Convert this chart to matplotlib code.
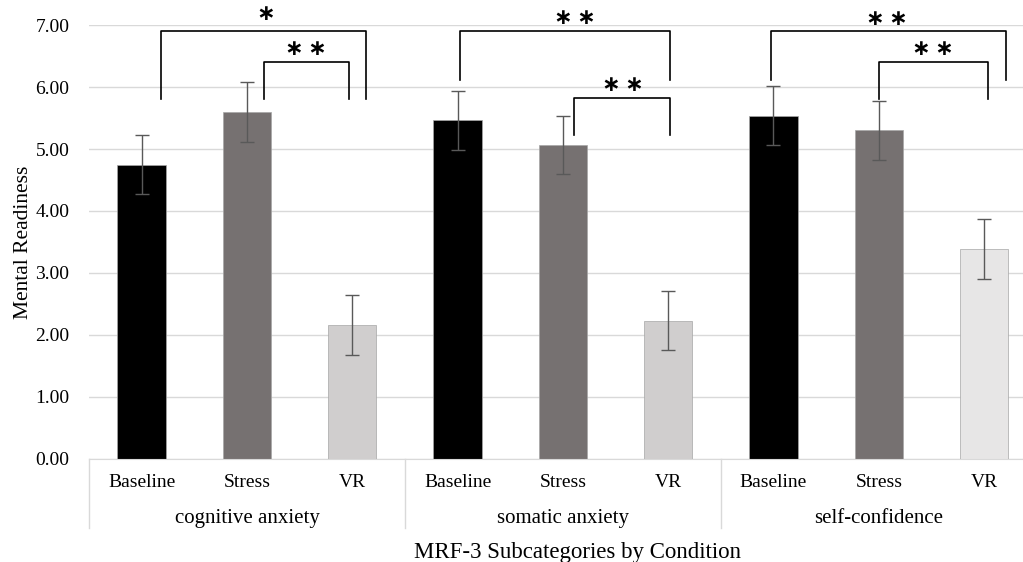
import matplotlib.pyplot as plt

# MRF-3 means and error bars, one entry per bar (subcategory x condition)
subcategories = ["cognitive anxiety", "somatic anxiety", "self-confidence"]
conditions = ["Baseline", "Stress", "VR"]
means = [4.75, 5.60, 2.16,
         5.46, 5.07, 2.23,
         5.54, 5.30, 3.39]
errors = [0.47, 0.48, 0.48,
          0.47, 0.47, 0.48,
          0.48, 0.48, 0.48]
bar_colors = ["#000000", "#767171", "#d0cece",
              "#000000", "#767171", "#d0cece",
              "#000000", "#767171", "#e7e6e6"]

# significance brackets: (left x, right x, top y, leg y, label, label x, label y)
brackets = [
    (0.18, 2.13, 6.90, 5.81, "*", 1.18, 7.17),
    (1.16, 1.97, 6.41, 5.81, "**", 1.56, 6.62),
    (3.02, 5.02, 6.90, 6.11, "**", 4.11, 7.12),
    (4.11, 5.02, 5.82, 5.23, "**", 4.57, 6.04),
    (5.98, 8.21, 6.90, 6.11, "**", 7.08, 7.10),
    (7.00, 8.04, 6.41, 5.80, "**", 7.51, 6.62),
]

plt.rcParams['font.family'] = ['Liberation Serif', 'DejaVu Serif']

fig = plt.figure(figsize=(10.23, 5.62), dpi=100)
ax = fig.add_axes([0.087, 0.1833, 0.9264, 0.7722])

x = list(range(len(means)))
ax.bar(x, means, width=0.46, color=bar_colors, edgecolor="#a6a6a6",
       linewidth=0.5, zorder=3)
ax.errorbar(x, means, yerr=errors, fmt="none", ecolor="#595959",
            elinewidth=1.0, capsize=5, capthick=1.0, zorder=4)

ax.set_xlim(-0.5, 8.5)
ax.set_ylim(0, 7)
ax.set_yticks(range(8))
ax.set_yticklabels([f"{v:.2f}" for v in range(8)], fontsize=14)
ax.tick_params(axis="y", length=0, pad=14)
ax.yaxis.grid(True, color="#d9d9d9", linewidth=1.0, zorder=0)
for s in ["top", "right", "left"]:
    ax.spines[s].set_visible(False)
ax.spines["bottom"].set_color("#d9d9d9")
ax.spines["bottom"].set_zorder(5)

# two-level category axis
ax.set_xticks([])
tr = ax.get_xaxis_transform()
for i in x:
    ax.text(i, -0.055, conditions[i % 3], transform=tr, ha="center",
            va="center", fontsize=14)
for g, name in enumerate(subcategories):
    ax.text(3 * g + 1, -0.138, name, transform=tr, ha="center",
            va="center", fontsize=15)
for sep in [-0.5, 2.5, 5.5, 8.5]:
    ax.plot([sep, sep], [0, -0.159], transform=tr, color="#d9d9d9",
            linewidth=1.0, clip_on=False)

ax.set_ylabel("Mental Readiness", fontsize=15.5, labelpad=2)
fig.text(0.565, 0.017, "MRF-3 Subcategories by Condition", ha="center",
         va="center", fontsize=16.5)

for x0, x1, top, leg, label, lx, ly in brackets:
    ax.plot([x0, x0, x1, x1], [leg, top, top, leg], color="black",
            linewidth=1.2, clip_on=False, zorder=6)
    ax.text(lx, ly, "\u2009".join("\u2217" * len(label)), ha="center",
            va="center", fontsize=16, family=["DejaVu Sans"],
            fontweight="bold", clip_on=False)

fig.savefig("out.png", dpi=100)
